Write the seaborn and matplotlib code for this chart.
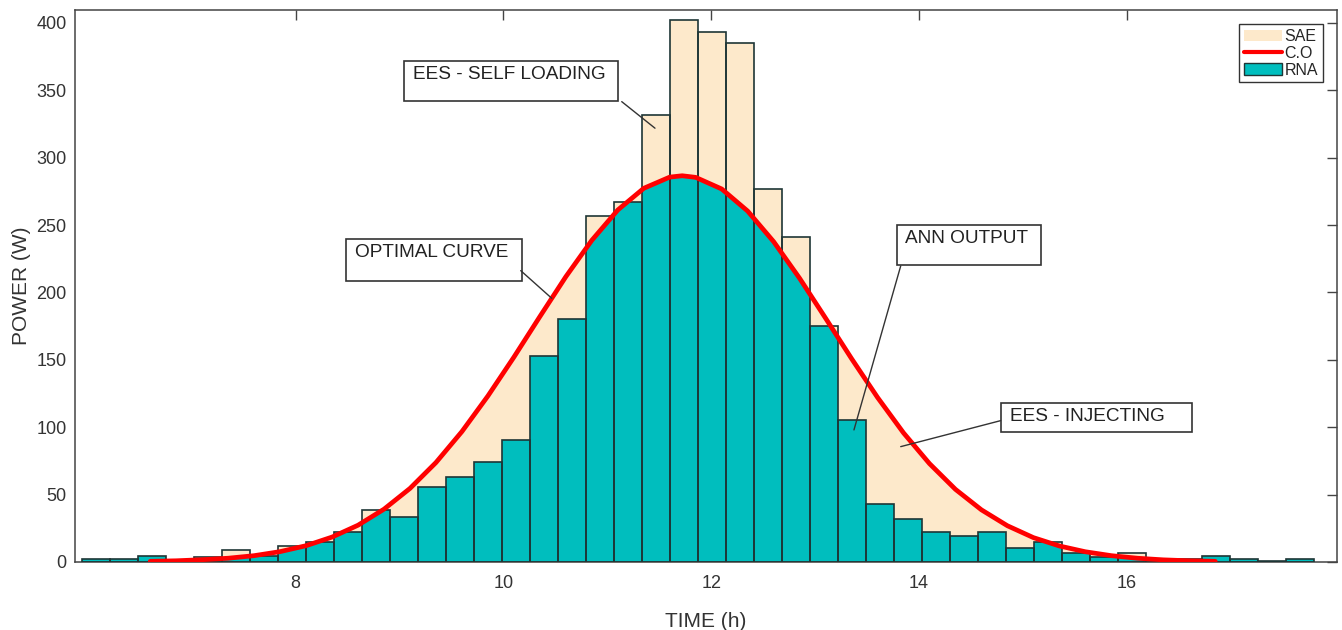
import numpy as np
import pandas as pd
import matplotlib
matplotlib.use("Agg")
import matplotlib.pyplot as plt
from matplotlib.patches import Patch, Polygon, Rectangle
from matplotlib.lines import Line2D
import seaborn as sns

# Datos: histograma de potencia (RNA) por intervalo horario
bin_start = 5.946
bin_width = 0.2695
rna_power = [2.5, 2.5, 4.7, 1.2, 3.7, 8.7, 4.7, 11.6, 14.8, 22.5,
             38.8, 33.6, 55.6, 63, 74, 90.5, 153, 180, 257, 267,
             332, 402, 393, 385, 277, 241, 175, 105, 43, 32,
             22.5, 19, 22.5, 10.5, 14.6, 6.7, 3.7, 6.7, 1.7, 2.2,
             4.7, 2.5, 0.7, 2.5]

# Curva optima (C.O)
co_time = [6.60, 6.85, 7.10, 7.35, 7.60, 7.85, 8.10, 8.35, 8.60, 8.85,
           9.10, 9.35, 9.60, 9.85, 10.10, 10.35, 10.60, 10.85, 11.10, 11.35,
           11.60, 11.72, 11.85, 12.10, 12.35, 12.60, 12.85, 13.10, 13.35, 13.60,
           13.85, 14.10, 14.35, 14.60, 14.85, 15.10, 15.35, 15.60, 15.85, 16.10,
           16.35, 16.60, 16.85]
co_power = [0.5, 0.9, 1.7, 2.8, 4.7, 7.7, 12.1, 18.5, 27.3, 39.2,
            54.6, 73.8, 96.8, 123.2, 152.0, 182.1, 211.7, 238.7, 261.2, 277.3,
            285.6, 286.6, 285.4, 276.8, 260.4, 237.7, 210.5, 180.9, 150.9, 122.1,
            95.8, 73.0, 53.9, 38.7, 26.9, 18.1, 11.9, 7.6, 4.7, 2.8,
            1.6, 0.9, 0.5]

legend_labels = ['SAE', 'C.O', 'RNA']
x_ticks = [8, 10, 12, 14, 16]
y_ticks = list(range(0, 401, 50))

beige = '#FDE9CB'
teal = '#00BEBE'
edge = '#1E3636'
dark = '#333333'

sns.set_style("white")
plt.rcParams['font.family'] = ['Liberation Sans', 'DejaVu Sans']

fig = plt.figure(figsize=(13.42, 6.30), dpi=100)
ax = fig.add_axes([75 / 1342, 68 / 630, 1262 / 1342, 552 / 630])

edges = [bin_start + bin_width * i for i in range(len(rna_power) + 1)]
df = pd.DataFrame({'time': [e + bin_width / 2 for e in edges[:-1]],
                   'power': rna_power})

# zona entre curva y eje
ax.fill_between(co_time, 0, co_power, color=beige, lw=0, zorder=1)

# barras completas (SAE)
sns.histplot(data=df, x='time', weights='power', bins=edges, color=beige,
             alpha=1, edgecolor='none', linewidth=0, ax=ax, zorder=1)

# barras RNA recortadas por la curva (los extremos quedan sin recortar)
n0 = len(ax.patches)
sns.histplot(data=df, x='time', weights='power', bins=edges, color=teal,
             alpha=1, edgecolor='none', linewidth=0, ax=ax, zorder=2)
left_cut = min(e for e in edges if e >= co_time[0])
right_cut = max(e for e in edges if e <= co_time[-1])
inner = [(t, p) for t, p in zip(co_time, co_power) if left_cut < t < right_cut]
verts = ([(4, -10), (4, 1000), (left_cut, 1000),
          (left_cut, np.interp(left_cut, co_time, co_power))]
         + inner
         + [(right_cut, np.interp(right_cut, co_time, co_power)),
            (right_cut, 1000), (20, 1000), (20, -10)])
clip = Polygon(verts, closed=True, transform=ax.transData)
for p in ax.patches[n0:]:
    p.set_clip_path(clip)

# contornos
sns.histplot(data=df, x='time', weights='power', bins=edges, fill=False,
             color=edge, linewidth=1.2, ax=ax, zorder=3)

sns.lineplot(x=co_time, y=co_power, color='red', lw=3.4, ax=ax, zorder=4)

ax.set_xlim(5.876, 18.022)
ax.set_ylim(0, 409.6)
ax.set_xticks(x_ticks)
ax.set_yticks(y_ticks)
ax.tick_params(direction='in', top=True, right=True, length=7, width=1,
               color='#444444', labelcolor=dark, labelsize=13)
ax.tick_params(axis='x', pad=9)
ax.tick_params(axis='y', pad=6)
for s in ax.spines.values():
    s.set_visible(True)
    s.set_color('#444444')
    s.set_linewidth(1.1)
ax.set_xlabel('TIME (h)', fontsize=15, color=dark, labelpad=15)
ax.set_ylabel('POWER (W)', fontsize=15, color=dark, labelpad=4)

# cuadros de texto
boxes = [
    ('EES - SELF LOADING', (9.045, 342.1), 2.060, 29.9, (9.132, 368.1),
     (11.138, 341.6), (11.458, 321.9)),
    ('OPTIMAL CURVE', (8.484, 208.5), 1.697, 31.2, (8.571, 236.0),
     (10.166, 216.2), (10.464, 195.7)),
    ('ANN OUTPUT', (13.784, 220.2), 1.392, 30.1, (13.864, 246.4),
     (13.823, 219.7), (13.373, 98.0)),
    ('EES - INJECTING', (14.785, 96.7), 1.839, 21.5, (14.875, 114.3),
     (14.785, 104.9), (13.823, 85.6)),
]
for txt, xy, w, h, txy, p0, p1 in boxes:
    ax.add_patch(Rectangle(xy, w, h, facecolor='white', edgecolor=dark,
                           lw=1.2, zorder=6))
    ax.text(txy[0], txy[1], txt, fontsize=13.7, color='#222222',
            ha='left', va='top', zorder=7)
    ax.annotate('', xy=p1, xytext=p0,
                arrowprops=dict(arrowstyle='-', color=dark, lw=1,
                                shrinkA=0, shrinkB=0), zorder=6)

handles = [Patch(facecolor=beige, edgecolor='none'),
           Line2D([0], [0], color='red', lw=3),
           Patch(facecolor=teal, edgecolor=edge)]
leg = ax.legend(handles, legend_labels, loc='upper right',
                bbox_to_anchor=(0.9887, 0.9746), borderaxespad=0,
                fontsize=11.5, fancybox=False, framealpha=1, edgecolor=dark,
                handlelength=2.4, handletextpad=0.15, labelspacing=0.12,
                borderpad=0.3)
leg.get_frame().set_linewidth(1)

fig.savefig('out.png', dpi=100)
